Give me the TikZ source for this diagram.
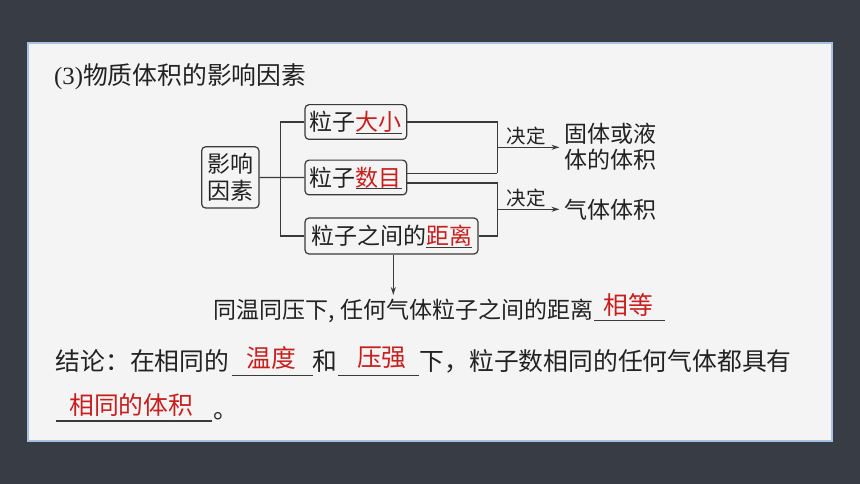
\documentclass[tikz,border=0pt]{standalone}
\usepackage{fontspec}
\setmainfont{Noto Sans CJK SC}
\newfontfamily\latserif{Liberation Serif}
\usetikzlibrary{arrows.meta}
\definecolor{bgdark}{HTML}{383C45}
\definecolor{panel}{HTML}{F4F4F4}
\definecolor{paneledge}{HTML}{A9C1E0}
\definecolor{ansred}{HTML}{C81E1E}
\definecolor{inkc}{HTML}{222222}
\definecolor{lineclr}{HTML}{3A3A3A}
\newcommand\redul[1]{\setbox0\hbox{\color{ansred}#1}\rlap{\smash{\color{lineclr}\rule[-2.9pt]{\wd0}{1.1pt}}}\box0}
\tikzset{
  boxbase/.style={draw=lineclr, line width=1.2pt, rounded corners=4pt, fill=panel, text=inkc,
    font=\fontsize{23}{27}\selectfont, inner sep=0pt},
  onel/.style={boxbase, text height=19.5pt, text depth=2pt, minimum height=34.7pt},
  conn/.style={draw=lineclr, line width=1.2pt},
  arr/.style={conn, -{Stealth[length=8pt, width=5pt]}},
  body/.style={text=inkc, inner sep=0pt, font=\fontsize{24.8}{30}\selectfont},
  mid/.style={text=inkc, inner sep=0pt, font=\fontsize{23}{26.7}\selectfont},
  lbl/.style={text=inkc, inner sep=0pt, font=\fontsize{19.5}{23}\selectfont},
  ans/.style={text=ansred, inner sep=0pt, font=\fontsize{24.8}{30}\selectfont},
  blank/.style={draw=lineclr, line width=1.1pt},
}
\begin{document}
\begin{tikzpicture}[x=1pt,y=-1pt]
\fill[bgdark] (0,0) rectangle (860,484);
\useasboundingbox (0,0) rectangle (860,484);
\draw[paneledge, line width=2pt, fill=panel] (27.7,42.7) rectangle (832,441);

% title
\node[body, anchor=base west] (title) at (54,84.4) {{\latserif (3)}物质体积的影响因素};

% boxes
\node[boxbase, align=center, minimum width=57.3pt, minimum height=61.3pt] (yx) at (230.3,177.4) {影响\\因素};
\node[onel, minimum width=101.7pt] (b1) at (355.85,122) {粒子\redul{大小}};
\node[onel, minimum width=101.7pt] (b2) at (355.85,177.5) {粒子\redul{数目}};
\node[onel, minimum width=173pt, minimum height=36pt] (b3) at (391.5,236) {粒子之间的\redul{距离}};

% left trunk
\coordinate (tkT) at (280.7,122);
\coordinate (tkB) at (280.7,236);
\draw[conn] (yx.east) -- (b2.west);
\draw[conn] (b1.west) -- (tkT) -- (tkB) -- (b3.west);

% right joins
\coordinate (jA) at (497.3,173.5);
\coordinate (jB) at (497.3,183);
\coordinate (a1s) at (497.3,147.3);
\coordinate (a2s) at (497.3,209.3);
\draw[conn] (b1.east) -| (jA);
\draw[conn] (b2.east |- jA) -- (jA);
\draw[conn] (b2.east |- jB) -- (jB) |- (b3.east);

% targets
\node[mid, align=left, anchor=base west, inner xsep=5pt] (t1) at (559.5,168.8) {固体或液\\体的体积};
\node[mid, anchor=west, inner xsep=5pt, text height=19.5pt, text depth=2pt] (t2) at (559.5,210) {气体体积};
\draw[arr] (a1s) -- (a1s -| t1.west);
\draw[arr] (a2s) -- (a2s -| t2.west);
\node[lbl, anchor=base] (d1) at (526.2,143.2) {决定};
\node[lbl, anchor=base] (d2) at (526.2,205.7) {决定};

% down arrow and conclusion under the diagram
\coordinate (clTop) at (393.3,295);
\draw[arr] (b3.south -| clTop) -- (clTop);
\node[mid, anchor=base west] (cl) at (213.5,318.7) {同温同压下, 任何气体粒子之间的距离};
\node[ans, anchor=base] (aeq) at (628,314) {相等};
\draw[blank] (594,320.7) -- (665,320.7);

% final conclusion
\node[body, anchor=base west] (c1) at (55.5,370.2) {结论：在相同的};
\draw[blank] (231.7,375.7) -- (312.7,375.7);
\node[ans, anchor=base] (at1) at (271.5,367.6) {温度};
\node[body, anchor=base west] (c2) at (312.7,370.2) {和};
\draw[blank] (337.7,375.7) -- (419.3,375.7);
\node[ans, anchor=base] (at2) at (381.8,366) {压强};
\node[body, anchor=base west] (c3) at (419.5,370.2) {下，粒子数相同的任何气体都具有};
\node[ans, anchor=base] (at3) at (131.3,414.3) {相同的体积};
\draw[blank] (56,421) -- (211.7,421);
\node[body, anchor=base west] (c4) at (213.5,418) {。};
\end{tikzpicture}
\end{document}
